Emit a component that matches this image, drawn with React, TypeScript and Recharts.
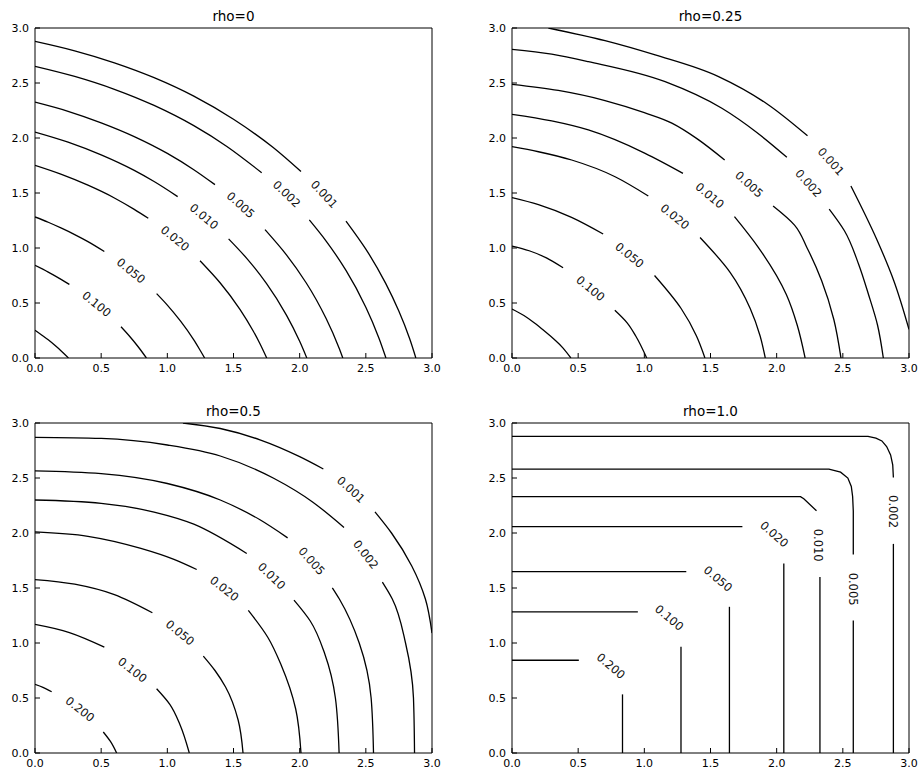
import { ComposedChart, Line, Scatter, XAxis, YAxis } from "recharts";

type Pt = [number, number];
type Tag = { x: number; y: number; text: string; angle: number };

const TICKS = [0, 0.5, 1, 1.5, 2, 2.5, 3];

// rho = 0 : contour segments (A = from the left axis up to the label gap, B = from the gap down to the bottom axis)
const R0_200: Pt[] = [[0, 0.253], [0.05, 0.21], [0.1, 0.165], [0.15, 0.115], [0.2, 0.062], [0.253, 0]];
const R0_100A: Pt[] = [[0, 0.842], [0.1, 0.781], [0.2, 0.713], [0.26, 0.669]];
const R0_100B: Pt[] = [[0.65, 0.284], [0.713, 0.2], [0.781, 0.1], [0.842, 0]];
const R0_050A: Pt[] = [[0, 1.282], [0.1, 1.234], [0.2, 1.18], [0.3, 1.122], [0.4, 1.058], [0.524, 0.968]];
const R0_050B: Pt[] = [[0.919, 0.585], [1.0, 0.481], [1.1, 0.335], [1.2, 0.165], [1.25, 0.066], [1.282, 0]];
const R0_020A: Pt[] = [[0, 1.751], [0.2, 1.669], [0.4, 1.571], [0.6, 1.455], [0.75, 1.351], [0.856, 1.27]];
const R0_020B: Pt[] = [[1.247, 0.884], [1.4, 0.682], [1.55, 0.44], [1.65, 0.243], [1.7, 0.13], [1.751, 0]];
const R0_010A: Pt[] = [[0, 2.054], [0.25, 1.962], [0.5, 1.846], [0.75, 1.705], [0.9, 1.604], [1.078, 1.467]];
const R0_010B: Pt[] = [[1.463, 1.083], [1.6, 0.906], [1.75, 0.676], [1.9, 0.39], [2.0, 0.152], [2.054, 0]];
const R0_005A: Pt[] = [[0, 2.326], [0.25, 2.243], [0.5, 2.138], [0.75, 2.013], [1.0, 1.86], [1.2, 1.712], [1.36, 1.576]];
const R0_005B: Pt[] = [[1.738, 1.167], [1.9, 0.938], [2.05, 0.682], [2.2, 0.359], [2.3, 0.084], [2.326, 0]];
const R0_002A: Pt[] = [[0, 2.652], [0.3, 2.56], [0.6, 2.443], [0.9, 2.296], [1.2, 2.112], [1.45, 1.923], [1.713, 1.684]];
const R0_002B: Pt[] = [[2.073, 1.255], [2.2, 1.063], [2.35, 0.796], [2.5, 0.462], [2.6, 0.178], [2.652, 0]];
const R0_001A: Pt[] = [[0, 2.878], [0.3, 2.792], [0.6, 2.683], [0.9, 2.548], [1.2, 2.38], [1.5, 2.17], [1.8, 1.913], [2.01, 1.695]];
const R0_001B: Pt[] = [[2.35, 1.245], [2.5, 0.99], [2.65, 0.678], [2.75, 0.424], [2.83, 0.179], [2.878, 0]];
const R0_LABELS: Tag[] = [
  { x: 0.466, y: 0.49, text: "0.100", angle: 39 },
  { x: 0.725, y: 0.793, text: "0.050", angle: 39 },
  { x: 1.058, y: 1.087, text: "0.020", angle: 39 },
  { x: 1.277, y: 1.285, text: "0.010", angle: 40 },
  { x: 1.554, y: 1.391, text: "0.005", angle: 42 },
  { x: 1.902, y: 1.491, text: "0.002", angle: 44 },
  { x: 2.186, y: 1.488, text: "0.001", angle: 47 },
];

// rho = 0.25
const R1_200: Pt[] = [[0, 0.445], [0.09, 0.386], [0.17, 0.318], [0.245, 0.245], [0.318, 0.17], [0.386, 0.09], [0.445, 0]];
const R1_100A: Pt[] = [[0, 1.018], [0.13, 0.975], [0.26, 0.91], [0.386, 0.82]];
const R1_100B: Pt[] = [[0.777, 0.434], [0.87, 0.32], [0.935, 0.2], [1.018, 0]];
const R1_050A: Pt[] = [[0, 1.458], [0.2, 1.394], [0.45, 1.278], [0.689, 1.127]];
const R1_050B: Pt[] = [[1.077, 0.75], [1.278, 0.45], [1.394, 0.2], [1.458, 0]];
const R1_020A: Pt[] = [[0, 1.921], [0.2, 1.875], [0.451, 1.8], [0.779, 1.648], [1.03, 1.473]];
const R1_020B: Pt[] = [[1.421, 1.096], [1.648, 0.779], [1.8, 0.451], [1.875, 0.2], [1.914, 0]];
const R1_010A: Pt[] = [[0, 2.215], [0.3, 2.155], [0.577, 2.073], [1.006, 1.861], [1.292, 1.679]];
const R1_010B: Pt[] = [[1.681, 1.285], [1.861, 1.006], [2.073, 0.577], [2.155, 0.3], [2.215, 0]];
const R1_005A: Pt[] = [[0, 2.488], [0.35, 2.432], [0.703, 2.34], [1.0, 2.23], [1.208, 2.135], [1.4, 1.992], [1.607, 1.8]];
const R1_005B: Pt[] = [[1.973, 1.382], [2.135, 1.208], [2.23, 1.0], [2.34, 0.703], [2.432, 0.35], [2.486, 0]];
const R1_002A: Pt[] = [[0, 2.806], [0.3, 2.762], [0.577, 2.694], [1.157, 2.512], [1.586, 2.27], [1.85, 2.05], [2.077, 1.825]];
const R1_002B: Pt[] = [[2.397, 1.354], [2.512, 1.157], [2.62, 0.85], [2.694, 0.577], [2.762, 0.3], [2.806, 0]];
const R1_001A: Pt[] = [[0.275, 3.0], [0.703, 2.885], [1.082, 2.755], [1.561, 2.558], [1.939, 2.3], [2.233, 2.02]];
const R1_001B: Pt[] = [[2.561, 1.564], [2.755, 1.082], [2.885, 0.703], [3.0, 0.26]];
const R1_LABELS: Tag[] = [
  { x: 0.593, y: 0.632, text: "0.100", angle: 39 },
  { x: 0.888, y: 0.935, text: "0.050", angle: 39 },
  { x: 1.231, y: 1.285, text: "0.020", angle: 39 },
  { x: 1.494, y: 1.476, text: "0.010", angle: 40 },
  { x: 1.792, y: 1.579, text: "0.005", angle: 42 },
  { x: 2.241, y: 1.588, text: "0.002", angle: 48 },
  { x: 2.41, y: 1.786, text: "0.001", angle: 48 },
];

// rho = 0.5
const R2_200A: Pt[] = [[0, 0.624], [0.06, 0.597], [0.126, 0.557]];
const R2_200B: Pt[] = [[0.516, 0.191], [0.57, 0.105], [0.617, 0]];
const R2_100A: Pt[] = [[0, 1.169], [0.26, 1.095], [0.524, 0.963]];
const R2_100B: Pt[] = [[0.919, 0.584], [1.02, 0.44], [1.095, 0.26], [1.166, 0]];
const R2_050A: Pt[] = [[0, 1.577], [0.3, 1.535], [0.6, 1.44], [0.887, 1.275]];
const R2_050B: Pt[] = [[1.272, 0.881], [1.36, 0.75], [1.44, 0.6], [1.535, 0.3], [1.572, 0]];
const R2_020A: Pt[] = [[0, 2.01], [0.4, 1.97], [0.8, 1.86], [1.05, 1.76], [1.222, 1.668]];
const R2_020B: Pt[] = [[1.612, 1.296], [1.76, 1.05], [1.86, 0.8], [1.97, 0.4], [2.01, 0]];
const R2_010A: Pt[] = [[0, 2.3], [0.5, 2.27], [0.9, 2.19], [1.2, 2.08], [1.6, 1.814]];
const R2_010B: Pt[] = [[1.957, 1.39], [2.08, 1.2], [2.19, 0.9], [2.27, 0.5], [2.298, 0]];
const R2_005A: Pt[] = [[0, 2.565], [0.5, 2.54], [1.0, 2.45], [1.4, 2.3], [1.7, 2.12], [1.909, 1.956]];
const R2_005B: Pt[] = [[2.247, 1.502], [2.3, 1.4], [2.45, 1.0], [2.54, 0.5], [2.558, 0]];
const R2_002A: Pt[] = [[0, 2.87], [0.5, 2.86], [1.0, 2.8], [1.4, 2.7], [1.8, 2.5], [2.1, 2.28], [2.335, 2.051]];
const R2_002B: Pt[] = [[2.625, 1.553], [2.7, 1.4], [2.8, 1.0], [2.86, 0.5], [2.868, 0]];
const R2_001A: Pt[] = [[1.118, 3.0], [1.4, 2.95], [1.7, 2.847], [2.0, 2.694], [2.179, 2.582]];
const R2_001B: Pt[] = [[2.569, 2.192], [2.694, 2.0], [2.847, 1.7], [2.95, 1.4], [3.0, 1.09]];
const R2_LABELS: Tag[] = [
  { x: 0.34, y: 0.397, text: "0.200", angle: 38 },
  { x: 0.736, y: 0.754, text: "0.100", angle: 38 },
  { x: 1.096, y: 1.093, text: "0.050", angle: 39 },
  { x: 1.431, y: 1.493, text: "0.020", angle: 38 },
  { x: 1.788, y: 1.608, text: "0.010", angle: 44 },
  { x: 2.091, y: 1.744, text: "0.005", angle: 48 },
  { x: 2.499, y: 1.804, text: "0.002", angle: 52 },
  { x: 2.388, y: 2.395, text: "0.001", angle: 42 },
];

// rho = 1.0
const R3_200A: Pt[] = [[0, 0.843], [0.505, 0.843]];
const R3_200B: Pt[] = [[0.835, 0.533], [0.835, 0]];
const R3_100A: Pt[] = [[0, 1.283], [0.951, 1.283]];
const R3_100B: Pt[] = [[1.277, 0.966], [1.277, 0]];
const R3_050A: Pt[] = [[0, 1.648], [1.317, 1.648]];
const R3_050B: Pt[] = [[1.643, 1.329], [1.643, 0]];
const R3_020A: Pt[] = [[0, 2.058], [1.741, 2.058]];
const R3_020B: Pt[] = [[2.054, 1.723], [2.054, 0]];
const R3_010A: Pt[] = [[0, 2.331], [2.18, 2.331], [2.205, 2.311], [2.301, 2.202]];
const R3_010B: Pt[] = [[2.327, 1.599], [2.327, 0]];
const R3_005A: Pt[] = [[0, 2.58], [2.395, 2.58], [2.483, 2.553], [2.538, 2.499], [2.564, 2.423], [2.574, 2.332], [2.579, 2.2], [2.579, 1.804]];
const R3_005B: Pt[] = [[2.579, 1.205], [2.579, 0]];
const R3_002A: Pt[] = [[0, 2.878], [2.69, 2.878], [2.75, 2.862], [2.795, 2.837], [2.831, 2.786], [2.861, 2.71], [2.877, 2.62], [2.882, 2.505]];
const R3_002B: Pt[] = [[2.882, 1.901], [2.882, 0]];
const R3_LABELS: Tag[] = [
  { x: 0.747, y: 0.79, text: "0.200", angle: 40 },
  { x: 1.188, y: 1.229, text: "0.100", angle: 40 },
  { x: 1.557, y: 1.583, text: "0.050", angle: 40 },
  { x: 1.982, y: 1.988, text: "0.020", angle: 41 },
  { x: 2.316, y: 1.889, text: "0.010", angle: 90 },
  { x: 2.574, y: 1.49, text: "0.005", angle: 90 },
  { x: 2.882, y: 2.195, text: "0.002", angle: 90 },
];

// arcs run left to right (smoothed along x), drops run top to bottom (smoothed along y)
const PANELS = [
  {
    title: "rho=0",
    arcType: "monotoneX",
    dropType: "monotoneY",
    arcs: [R0_200, R0_100A, R0_050A, R0_020A, R0_010A, R0_005A, R0_002A, R0_001A],
    drops: [R0_100B, R0_050B, R0_020B, R0_010B, R0_005B, R0_002B, R0_001B],
    labels: R0_LABELS,
  },
  {
    title: "rho=0.25",
    arcType: "monotoneX",
    dropType: "monotoneY",
    arcs: [R1_200, R1_100A, R1_050A, R1_020A, R1_010A, R1_005A, R1_002A, R1_001A],
    drops: [R1_100B, R1_050B, R1_020B, R1_010B, R1_005B, R1_002B, R1_001B],
    labels: R1_LABELS,
  },
  {
    title: "rho=0.5",
    arcType: "monotoneX",
    dropType: "monotoneY",
    arcs: [R2_200A, R2_100A, R2_050A, R2_020A, R2_010A, R2_005A, R2_002A, R2_001A],
    drops: [R2_200B, R2_100B, R2_050B, R2_020B, R2_010B, R2_005B, R2_002B, R2_001B],
    labels: R2_LABELS,
  },
  {
    title: "rho=1.0",
    arcType: "linear",
    dropType: "linear",
    arcs: [R3_200A, R3_100A, R3_050A, R3_020A, R3_010A, R3_005A, R3_002A],
    drops: [R3_200B, R3_100B, R3_050B, R3_020B, R3_010B, R3_005B, R3_002B],
    labels: R3_LABELS,
  },
];

// 2x2 grid placement of each chart (px)
const SLOTS = [
  { left: 0, top: 0 },
  { left: 477, top: 0 },
  { left: 0, top: 395 },
  { left: 477, top: 395 },
];

const FONT = "'DejaVu Sans', sans-serif";
const INK = "#000";
const GAP = 6; // distance from frame to tick labels
const TICK_LEN = 5; // ticks point into the plot
const fmt = (v: number) => v.toFixed(1);
const textStyle = { fill: INK, fontSize: 11, fontFamily: FONT };

// custom ticks: inward tick mark plus label (labels only on bottom/left)
const BottomTick = (p: any) => {
  const y0 = p.y - GAP;
  return (
    <g>
      <line x1={p.x} x2={p.x} y1={y0} y2={y0 - TICK_LEN} stroke={INK} />
      <text x={p.x} y={p.y} dy="0.71em" textAnchor="middle" {...textStyle}>
        {fmt(p.payload.value)}
      </text>
    </g>
  );
};
const LeftTick = (p: any) => {
  const x0 = p.x + GAP;
  return (
    <g>
      <line x1={x0} x2={x0 + TICK_LEN} y1={p.y} y2={p.y} stroke={INK} />
      <text x={p.x} y={p.y} dy="0.355em" textAnchor="end" {...textStyle}>
        {fmt(p.payload.value)}
      </text>
    </g>
  );
};
const TopTick = (p: any) => <line x1={p.x} x2={p.x} y1={p.y} y2={p.y + TICK_LEN} stroke={INK} />;
const RightTick = (p: any) => <line x1={p.x} x2={p.x - TICK_LEN} y1={p.y} y2={p.y} stroke={INK} />;

const ContourLabel = (props: any) => {
  const { cx, cy, payload } = props;
  return (
    <text
      x={cx}
      y={cy}
      transform={`rotate(${payload.angle} ${cx} ${cy})`}
      textAnchor="middle"
      dominantBaseline="central"
      fontSize={11.5}
      fontFamily={FONT}
      fill="#111"
    >
      {payload.text}
    </text>
  );
};

const renderSegment = (seg: Pt[], type: string, key: string) => (
  <Line
    key={key}
    data={seg.map(([x, y]) => ({ x, y }))}
    dataKey="y"
    type={type as any}
    stroke={INK}
    strokeWidth={1.3}
    dot={false}
    activeDot={false}
    isAnimationActive={false}
  />
);

function Panel({ panel, slot }: { panel: (typeof PANELS)[number]; slot: { left: number; top: number } }) {
  return (
    <div style={{ position: "absolute", left: slot.left, top: slot.top, width: 442, height: 378 }}>
      <div
        style={{
          position: "absolute",
          left: 35,
          top: 9,
          width: 397,
          textAlign: "center",
          fontFamily: FONT,
          fontSize: 13.5,
          lineHeight: "15px",
          color: INK,
        }}
      >
        {panel.title}
      </div>
      <ComposedChart width={442} height={378} margin={{ top: 27, right: 9, bottom: 0, left: 0 }}>
        <XAxis
          type="number"
          dataKey="x"
          domain={[0, 3]}
          ticks={TICKS}
          interval={0}
          allowDataOverflow
          height={20}
          tickSize={0}
          tickMargin={GAP}
          tickLine={false}
          tick={BottomTick}
          axisLine={{ stroke: INK }}
        />
        <XAxis
          xAxisId="top"
          orientation="top"
          type="number"
          dataKey="x"
          domain={[0, 3]}
          ticks={TICKS}
          interval={0}
          height={1}
          tickSize={0}
          tickMargin={0}
          tickLine={false}
          tick={TopTick}
          axisLine={{ stroke: INK }}
        />
        <YAxis
          type="number"
          dataKey="y"
          domain={[0, 3]}
          ticks={TICKS}
          interval={0}
          allowDataOverflow
          width={35}
          tickSize={0}
          tickMargin={GAP}
          tickLine={false}
          tick={LeftTick}
          axisLine={{ stroke: INK }}
        />
        <YAxis
          yAxisId="right"
          orientation="right"
          type="number"
          dataKey="y"
          domain={[0, 3]}
          ticks={TICKS}
          interval={0}
          width={1}
          tickSize={0}
          tickMargin={0}
          tickLine={false}
          tick={RightTick}
          axisLine={{ stroke: INK }}
        />
        {panel.arcs.map((seg, i) => renderSegment(seg, panel.arcType, `a${i}`))}
        {panel.drops.map((seg, i) => renderSegment(seg, panel.dropType, `d${i}`))}
        <Scatter data={panel.labels} dataKey="y" shape={ContourLabel} isAnimationActive={false} />
      </ComposedChart>
    </div>
  );
}

export default function App() {
  return (
    <div
      style={{
        position: "absolute",
        left: 0,
        top: 0,
        width: 919,
        height: 774,
        overflow: "hidden",
        background: "#fff",
      }}
    >
      {PANELS.map((p, i) => (
        <Panel key={p.title} panel={p} slot={SLOTS[i]} />
      ))}
    </div>
  );
}
